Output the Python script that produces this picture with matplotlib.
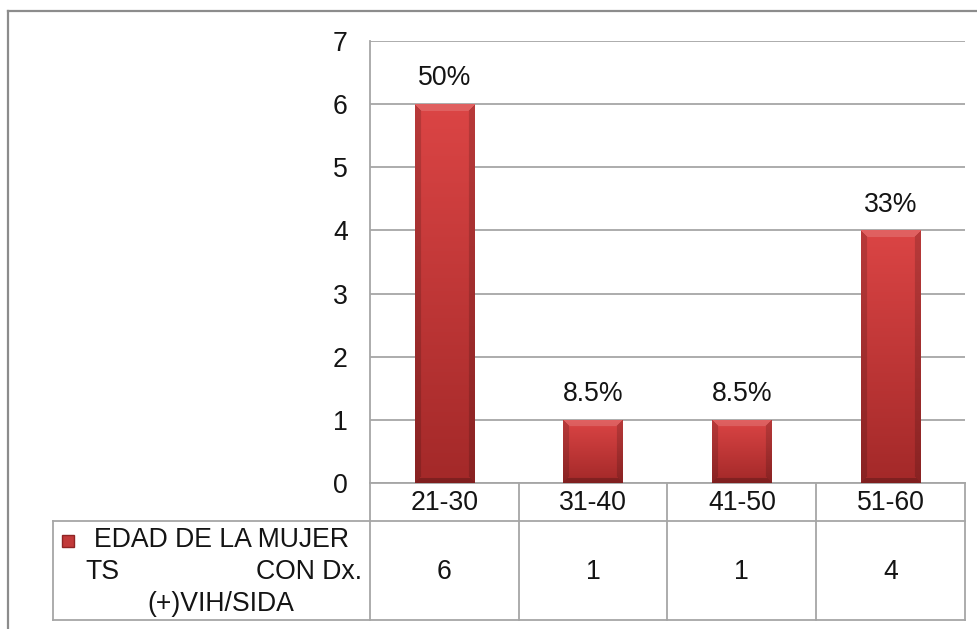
import numpy as np
import matplotlib.pyplot as plt
from matplotlib.lines import Line2D

plt.rcParams['font.family'] = ['Liberation Sans', 'DejaVu Sans']

grupos = ["21-30", "31-40", "41-50", "51-60"]
casos = [6, 1, 1, 4]
porcentajes = ["50%", "8.5%", "8.5%", "33%"]
serie = ["EDAD DE LA MUJER", "TS", "CON Dx.", "(+)VIH/SIDA"]

FS = 19.2
GRIS = "#a6a6a6"
NEGRO = "#141414"

fig = plt.figure(figsize=(9.78, 6.29), dpi=100)
ax = fig.add_axes([0.3783, 0.2321, 0.6084, 0.7027])

x = np.arange(len(grupos))
bars = ax.bar(x, casos, width=0.4, color="#c23a3a", zorder=3)


def sombrear(barra):
    # degradado con bisel para cada barra
    x0, y0 = barra.get_x(), barra.get_y()
    w, h = barra.get_width(), barra.get_height()
    hpx = max(int(h * 63), 10)
    wpx = 59
    u = np.linspace(0, 1, wpx)
    v = np.linspace(0, 1, hpx)
    arriba = np.array([0.86, 0.27, 0.27])
    abajo = np.array([0.64, 0.16, 0.16])
    img = arriba[None, None, :] * (1 - v)[:, None, None] + abajo[None, None, :] * v[:, None, None]
    img = np.repeat(img, wpx, axis=1)
    dx = np.minimum(u, 1 - u)[None, :] * wpx
    dy = v[:, None] * hpx
    db = hpx - dy
    lado = (dx < 6) & (dx < dy) & (dx < db)
    tope = (dy < 7) & (dy <= dx)
    base = (db < 5) & (db <= dx)
    img[lado] *= 0.84
    img[base] *= 0.78
    img[tope] = img[tope] + (1 - img[tope]) * 0.15
    im = ax.imshow(img, extent=(x0, x0 + w, y0, y0 + h), origin='upper',
                   aspect='auto', zorder=4, interpolation='bilinear')
    im.set_clip_path(barra)


for b in bars:
    sombrear(b)

for xi, yi, txt in zip(x, casos, porcentajes):
    ax.annotate(txt, (xi, yi), xytext=(0, 18.5), textcoords='offset points',
                ha='center', va='center', fontsize=FS, color=NEGRO)

ax.set_xlim(-0.5, len(grupos) - 0.5)
ax.set_ylim(0, 7)
ax.set_yticks(range(8))
ax.yaxis.grid(True, color=GRIS, lw=1.3)
ax.set_axisbelow(True)
ax.tick_params(axis='y', length=0, labelsize=FS, pad=16, labelcolor=NEGRO)
ax.set_xticks([])
for s in ["top", "right", "bottom"]:
    ax.spines[s].set_visible(False)
ax.spines["left"].set_color(GRIS)
ax.spines["left"].set_linewidth(1.3)

# tabla de datos bajo el grafico
y_fila1 = -38 / 442
y_fila2 = -137 / 442
x_izq = -317 / 595
ta = ax.transAxes
kw = dict(color=GRIS, lw=1.3, clip_on=False, transform=ta)
ax.add_line(Line2D([0, 1], [0, 0], **kw))
ax.add_line(Line2D([x_izq, 1], [y_fila1, y_fila1], **kw))
ax.add_line(Line2D([x_izq, 1], [y_fila2, y_fila2], **kw))
ax.add_line(Line2D([x_izq, x_izq], [y_fila1, y_fila2], **kw))
for k in range(len(grupos) + 1):
    xf = k / len(grupos)
    ax.add_line(Line2D([xf, xf], [0, y_fila2], **kw))

tx = ax.get_xaxis_transform()
for xi, g, c in zip(x, grupos, casos):
    ax.text(xi, -20 / 442, g, transform=tx, ha='center', va='center',
            fontsize=FS, color=NEGRO, clip_on=False)
    ax.text(xi, -89 / 442, str(c), transform=tx, ha='center', va='center',
            fontsize=FS, color=NEGRO, clip_on=False)

# leyenda de la serie
ax.plot([-302 / 595], [-58 / 442], 's', ms=8, color='#c23a3a', mec='#8f2525',
        transform=ta, clip_on=False)
ax.text(-0.25, -57 / 442, serie[0], transform=ta, ha='center', va='center',
        fontsize=FS, color=NEGRO)
ax.text(-285 / 595, -89 / 442, serie[1], transform=ta, ha='left', va='center',
        fontsize=FS, color=NEGRO)
ax.text(-8 / 595, -89 / 442, serie[2], transform=ta, ha='right', va='center',
        fontsize=FS, color=NEGRO)
ax.text(-0.25, -121 / 442, serie[3], transform=ta, ha='center', va='center',
        fontsize=FS, color=NEGRO)

# marco exterior
xm, ym = 8 / 978, 1 - 11 / 629
fig.add_artist(Line2D([xm, xm], [0, ym], color='#8c8c8c', lw=1.6))
fig.add_artist(Line2D([xm, 1], [ym, ym], color='#8c8c8c', lw=1.6))

fig.savefig("out.png", dpi=100)
